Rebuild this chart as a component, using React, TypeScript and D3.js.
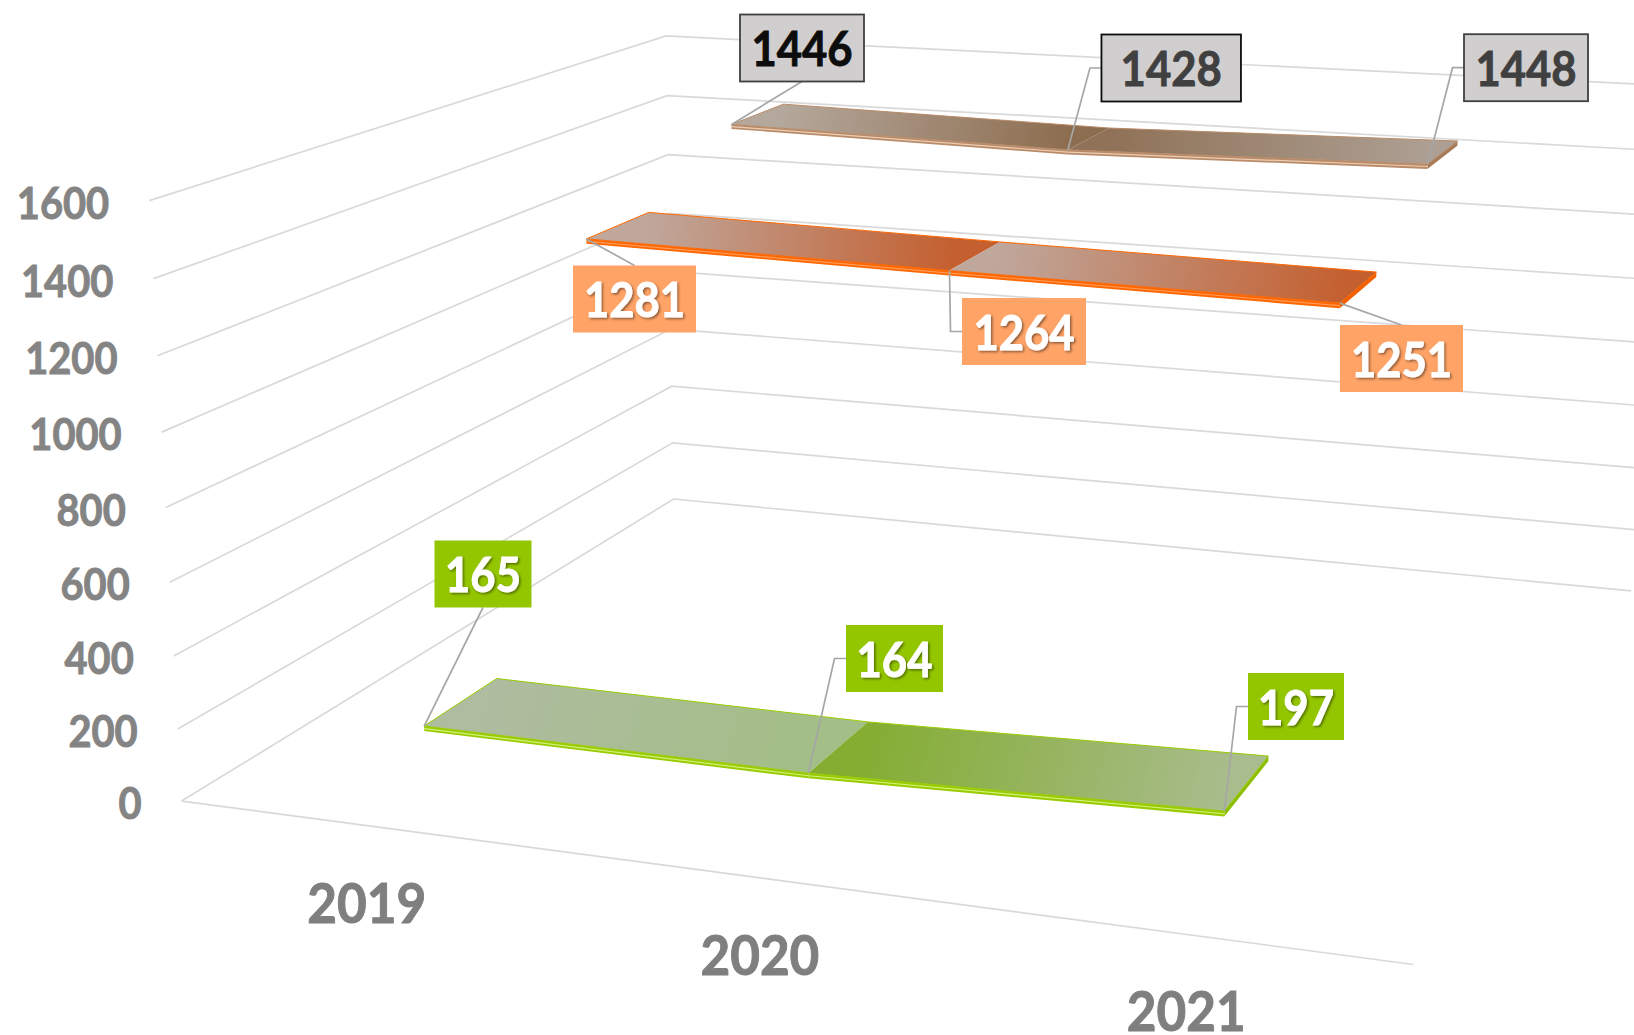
import React from "react";
import * as d3 from "d3";

const W = 1634;
const H = 1035;
const FONT = "Lato, 'Open Sans', sans-serif";

const categories = ["2019", "2020", "2021"];
const valueTicks = [0, 200, 400, 600, 800, 1000, 1200, 1400, 1600];
const lowValues = [165, 164, 197];
const midValues = [1281, 1264, 1251];
const highValues = [1446, 1428, 1448];

// perspective camera: (category position, value, depth) -> picture
const camX = [181.61, 1069.24, -38.95, 702.43];
const camY = [801.07, 52.61, -609.26, -146.17];
const camW = [-0.114897, -0.043742, 0.312354];

const uScale = d3.scalePoint<string>().domain(categories).range([1 / 6, 5 / 6]);
const vScale = d3.scaleLinear().domain([0, 1600]).range([0, 1]);

function project(u: number, v: number, d: number): [number, number] {
  const y = vScale(v);
  const w = 1 + camW[0] * u + camW[1] * y + camW[2] * d;
  return [
    (camX[0] + camX[1] * u + camX[2] * y + camX[3] * d) / w,
    (camY[0] + camY[1] * u + camY[2] * y + camY[3] * d) / w,
  ];
}

const line = d3.line<[number, number]>();
const polygon = (pts: [number, number][]) => line(pts) + "Z";

type Series = {
  id: string;
  values: number[];
  d0: number;
  d1: number;
  edge: string;
  edgeDark: string;
  highlight: string;
  grad: [string, string][];
  labelFill: string;
  labelStroke: (string | null)[];
  labelText: string[];
  labelCenters: [number, number][];
  labelWidths: number[];
  elbow: boolean[];
  below: boolean;
};

const THICK = 14;

const seriesList: Series[] = [
  {
    id: "high",
    values: highValues,
    d0: 0.768,
    d1: 0.902,
    edge: "#B98B68",
    edgeDark: "#A97C59",
    highlight: "#EBCDB4",
    grad: [
      ["#B4A79B", "#8D6D4F"],
      ["#8F7257", "#AD9F93"],
    ],
    labelFill: "#D0CECE",
    labelStroke: ["#404040", "#0D0D0D", "#404040"],
    labelText: ["#0D0D0D", "#404040", "#404040"],
    labelCenters: [
      [802, 48],
      [1171.2, 68],
      [1526, 67.7],
    ],
    labelWidths: [124, 139.5, 124],
    elbow: [false, true, true],
    below: false,
  },
  {
    id: "mid",
    values: midValues,
    d0: 0.4353,
    d1: 0.5701,
    edge: "#FF6600",
    edgeDark: "#F26000",
    highlight: "#FF9A55",
    grad: [
      ["#BFA79C", "#C46030"],
      ["#BFA79C", "#C46030"],
    ],
    labelFill: "#FFA366",
    labelStroke: [null, null, null],
    labelText: ["#FFFFFF", "#FFFFFF", "#FFFFFF"],
    labelCenters: [
      [634.5, 299],
      [1024, 331.5],
      [1401.5, 358.5],
    ],
    labelWidths: [123, 124, 123],
    elbow: [false, true, false],
    below: true,
  },
  {
    id: "low",
    values: lowValues,
    d0: 0.1023,
    d1: 0.2361,
    edge: "#99CC00",
    edgeDark: "#8CBE00",
    highlight: "#D4F07A",
    grad: [
      ["#AEBC9F", "#A3BE86"],
      ["#84AD32", "#A9BC8D"],
    ],
    labelFill: "#94C600",
    labelStroke: [null, null, null],
    labelText: ["#FFFFFF", "#FFFFFF", "#FFFFFF"],
    labelCenters: [
      [483, 574],
      [894.5, 658.5],
      [1296, 706.5],
    ],
    labelWidths: [97, 97, 96],
    elbow: [false, true, true],
    below: false,
  },
];

function Ribbon({ s }: { s: Series }) {
  const us = categories.map((c) => uScale(c) as number);
  const segs = d3.range(us.length - 1);
  const last = us.length - 1;
  const outline: [number, number][] = [
    ...us.map((u, i) => project(u, s.values[i], s.d1)),
    ...us.map((u, i) => project(u, s.values[i], s.d0)).reverse(),
  ];
  return (
    <g>
      <defs>
        {segs.map((i) => {
          const a = project(us[i], s.values[i], s.d1);
          const b = project(us[i + 1], s.values[i + 1], s.d0);
          return (
            <linearGradient
              key={i}
              id={`${s.id}-${i}`}
              gradientUnits="userSpaceOnUse"
              x1={a[0]}
              y1={a[1]}
              x2={b[0]}
              y2={b[1]}
            >
              <stop offset="0" stopColor={s.grad[i][0]} />
              <stop offset="1" stopColor={s.grad[i][1]} />
            </linearGradient>
          );
        })}
      </defs>
      <path
        d={polygon([
          project(us[last], s.values[last], s.d0),
          project(us[last], s.values[last], s.d1),
          project(us[last], s.values[last] - THICK, s.d1),
          project(us[last], s.values[last] - THICK, s.d0),
        ])}
        fill={s.edgeDark}
      />
      {segs.map((i) => (
        <g key={i}>
          <path
            d={polygon([
              project(us[i], s.values[i], s.d0),
              project(us[i + 1], s.values[i + 1], s.d0),
              project(us[i + 1], s.values[i + 1] - THICK, s.d0),
              project(us[i], s.values[i] - THICK, s.d0),
            ])}
            fill={s.edge}
          />
          <path
            d={
              line([
                project(us[i], s.values[i] - THICK * 0.5, s.d0),
                project(us[i + 1], s.values[i + 1] - THICK * 0.5, s.d0),
              ]) as string
            }
            stroke={s.highlight}
            strokeWidth={1.2}
            fill="none"
          />
          <path
            d={polygon([
              project(us[i], s.values[i], s.d0),
              project(us[i + 1], s.values[i + 1], s.d0),
              project(us[i + 1], s.values[i + 1], s.d1),
              project(us[i], s.values[i], s.d1),
            ])}
            fill={`url(#${s.id}-${i})`}
          />
        </g>
      ))}
      <path d={polygon(outline)} fill="none" stroke={s.edge} strokeWidth={1} strokeLinejoin="round" />
    </g>
  );
}

const LABEL_H = 67;
const DIGIT_W = 25.3;

function Labels({ s }: { s: Series }) {
  const us = categories.map((c) => uScale(c) as number);
  return (
    <g>
      {s.values.map((v, i) => {
        const p = project(us[i], v, s.d0);
        const [cx, cy] = s.labelCenters[i];
        const txt = String(v);
        const bw = s.labelWidths[i];
        const stroke = s.labelStroke[i];
        const leader: [number, number][] = s.elbow[i]
          ? [p, [cx - bw / 2 - 11.5, cy], [cx - bw / 2, cy]]
          : [p, [cx, cy + (s.below ? -LABEL_H / 2 : LABEL_H / 2)]];
        return (
          <g key={i}>
            <path d={line(leader) as string} fill="none" stroke="#A6A6A6" strokeWidth={1.7} />
            <rect
              x={cx - bw / 2}
              y={cy - LABEL_H / 2}
              width={bw}
              height={LABEL_H}
              fill={s.labelFill}
              stroke={stroke ?? "none"}
              strokeWidth={stroke ? 1.8 : 0}
            />
            <text
              x={cx}
              y={cy + 18}
              textAnchor="middle"
              fontFamily={FONT}
              fontWeight={700}
              fontSize={48}
              fill={s.labelText[i]}
              stroke={s.labelText[i]}
              strokeWidth={0.9}
              textLength={txt.length * DIGIT_W}
              lengthAdjust="spacingAndGlyphs"
              filter={s.labelText[i] === "#FFFFFF" ? "url(#txtShadow)" : undefined}
            >
              {txt}
            </text>
          </g>
        );
      })}
    </g>
  );
}

export default function App() {
  const grid = valueTicks.map((t) =>
    line([project(0, t, 0), project(0, t, 1), project(1, t, 1)]) as string
  );
  const floorFront = line([project(0, 0, 0), project(1, 0, 0)]) as string;
  return (
    <svg
      width={W}
      height={H}
      viewBox={`0 0 ${W} ${H}`}
      style={{ position: "absolute", left: 0, top: 0, display: "block", background: "#fff" }}
    >
      <defs>
        <filter id="txtShadow" x="-20%" y="-20%" width="140%" height="140%">
          <feDropShadow dx="1.5" dy="1.5" stdDeviation="1" floodColor="#000" floodOpacity="0.45" />
        </filter>
      </defs>
      <g stroke="#D9D9D9" strokeWidth={1.7} fill="none">
        {grid.map((d, i) => (
          <path key={i} d={d} />
        ))}
        <path d={floorFront} />
      </g>
      {valueTicks.map((t) => {
        const p = project(0, t, 0);
        const txt = String(t);
        return (
          <text
            key={t}
            x={p[0] - 40}
            y={p[1] + 18}
            textAnchor="end"
            fontFamily={FONT}
            fontWeight={700}
            fontSize={44}
            fill="#848484"
            stroke="#848484"
            strokeWidth={0.9}
            textLength={txt.length * 23.1}
            lengthAdjust="spacingAndGlyphs"
          >
            {txt}
          </text>
        );
      })}
      {categories.map((c) => {
        const p = project(uScale(c) as number, 0, 0);
        return (
          <text
            key={c}
            x={p[0]}
            y={p[1] + 97}
            textAnchor="middle"
            fontFamily={FONT}
            fontWeight={700}
            fontSize={56}
            fill="#7F7F7F"
            stroke="#7F7F7F"
            strokeWidth={1}
            textLength={119}
            lengthAdjust="spacingAndGlyphs"
          >
            {c}
          </text>
        );
      })}
      {seriesList.map((s) => (
        <Ribbon key={s.id} s={s} />
      ))}
      {seriesList.map((s) => (
        <Labels key={s.id} s={s} />
      ))}
    </svg>
  );
}
